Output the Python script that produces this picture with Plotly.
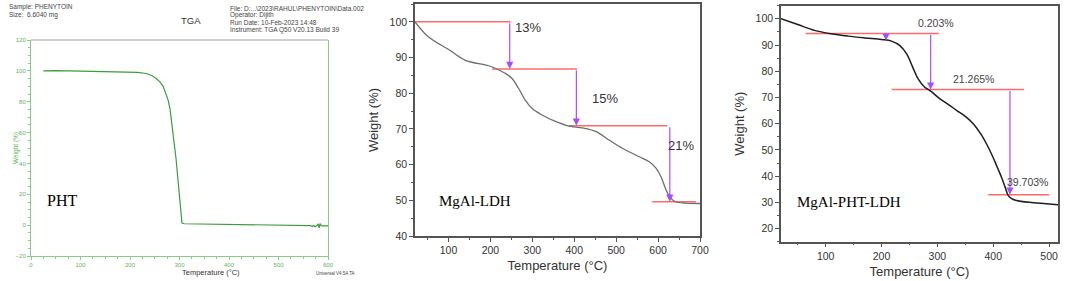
import plotly.graph_objects as go

W, H = 1065, 281

# ---------------- Panel 1: PHT (TA instrument export) ----------------
pht_temp = [25, 50, 100, 150, 200, 215, 233, 245, 253, 260, 267, 272, 277, 281, 284, 287,
            290, 293, 297, 300, 303, 305, 310, 341, 408, 496, 522, 550, 560, 565, 568, 571,
            574, 577, 580, 582, 584, 586, 590, 600]
pht_weight = [100, 100.2, 99.8, 99.6, 99.3, 99.0, 98.3, 96.8, 95, 93, 90, 86, 81, 75, 68, 60,
              51, 43, 29, 16, 8, 1.3, 0.9, 0.7, 0.4, 0.0, -0.4, -0.5, -0.6, -0.3, -0.9, -0.2,
              -1.0, -0.4, 0.8, -1.8, 1.0, -0.3, -0.5, -0.5]

# ---------------- Panel 2: MgAl-LDH ----------------
ldh_temp = [20, 51, 102, 139, 195, 211, 235, 251, 267, 283, 299, 323, 355, 387, 419, 451,
            483, 515, 555, 579, 595, 607, 619, 630, 642, 666, 700]
ldh_weight = [100, 95.9, 92.1, 89.3, 87.7, 87.0, 85.6, 84.2, 81.4, 78.1, 75.8, 73.9, 72.1,
              70.8, 70.3, 69.3, 66.9, 64.6, 62.2, 60.8, 59.0, 56.6, 52.9, 50.6, 49.6, 49.2, 49.1]
ldh_step_levels = [100, 86.8, 70.9, 49.6]
ldh_step_x0 = [20, 204, 387, 586]
ldh_step_x1 = [248, 407, 622, 690]
ldh_arrow_x = [246, 405, 628]
ldh_labels = ["13%", "15%", "21%"]
ldh_label_x = [290, 473, 654]
ldh_label_y = [98.5, 78.4, 65.3]

# ---------------- Panel 3: MgAl-PHT-LDH ----------------
mp_temp = [20, 50, 80, 110, 140, 170, 200, 218, 233, 245, 256, 265, 277, 288, 304, 320, 335,
           350, 365, 378, 390, 400, 408, 415, 421, 427, 433, 440, 465, 495, 516]
mp_weight = [100, 97.8, 95.6, 94.3, 93.4, 92.7, 92.1, 91.5, 89.8, 86.6, 81.5, 77.3, 74.0,
             72.4, 69.6, 67.3, 65.0, 62.8, 59.8, 56.0, 51.5, 47.0, 43.0, 39.5, 36.0, 32.6,
             31.4, 30.8, 30.0, 29.5, 29.1]
mp_step_levels = [94.4, 73.0, 32.9]
mp_step_x0 = [64, 218, 391]
mp_step_x1 = [303, 455, 500]
mp_arrow_x = [208, 288, 430]
mp_arrow_y0 = [94.4, 94.4, 73.0]
mp_arrow_y1 = [91.7, 73.0, 32.9]
mp_labels = ["0.203%", "21.265%", "39.703%"]
mp_label_x = [298, 364, 462]
mp_label_y = [98.5, 77.1, 37.8]

RED = "#ff6b6b"
PURPLE = "#a64dff"
GREEN = "#5db35d"
AX = "#555555"
SANS = "Liberation Sans, Arial, sans-serif"
SERIF = "Liberation Serif, Times New Roman, serif"

fig = go.Figure()

# panel 1 curve
fig.add_trace(go.Scatter(x=pht_temp, y=pht_weight, mode="lines", xaxis="x", yaxis="y",
                         line=dict(color="#3c9c3c", width=1.2), hoverinfo="skip"))

# panel 2 step lines + curve
for lv, a, b in zip(ldh_step_levels, ldh_step_x0, ldh_step_x1):
    fig.add_trace(go.Scatter(x=[a, b], y=[lv, lv], mode="lines", xaxis="x2", yaxis="y2",
                             line=dict(color=RED, width=1.5), hoverinfo="skip"))
fig.add_trace(go.Scatter(x=ldh_temp, y=ldh_weight, mode="lines", xaxis="x2", yaxis="y2",
                         line=dict(color="#6e6e6e", width=1.3, shape="spline"), hoverinfo="skip"))

# panel 3 step lines + curve
for lv, a, b in zip(mp_step_levels, mp_step_x0, mp_step_x1):
    fig.add_trace(go.Scatter(x=[a, b], y=[lv, lv], mode="lines", xaxis="x3", yaxis="y3",
                             line=dict(color=RED, width=1.5), hoverinfo="skip"))
fig.add_trace(go.Scatter(x=mp_temp, y=mp_weight, mode="lines", xaxis="x3", yaxis="y3",
                         line=dict(color="#1e1e1e", width=1.5, shape="spline"), hoverinfo="skip"))

annotations = []
# arrows panel 2
for i, ax_ in enumerate(ldh_arrow_x):
    annotations.append(dict(x=ax_, y=ldh_step_levels[i + 1], ax=ax_, ay=ldh_step_levels[i],
                            xref="x2", yref="y2", axref="x2", ayref="y2", text="",
                            showarrow=True, arrowhead=2, arrowsize=1.2, arrowwidth=1.2,
                            arrowcolor=PURPLE))
for t, x, y in zip(ldh_labels, ldh_label_x, ldh_label_y):
    annotations.append(dict(x=x, y=y, xref="x2", yref="y2", text=t, showarrow=False,
                            font=dict(family=SANS, size=13, color="#333333")))
# arrows panel 3
for x, y0, y1 in zip(mp_arrow_x, mp_arrow_y0, mp_arrow_y1):
    annotations.append(dict(x=x, y=y1, ax=x, ay=y0, xref="x3", yref="y3", axref="x3",
                            ayref="y3", text="", showarrow=True, arrowhead=2, arrowsize=1.2,
                            arrowwidth=1.2, arrowcolor=PURPLE))
for t, x, y in zip(mp_labels, mp_label_x, mp_label_y):
    annotations.append(dict(x=x, y=y, xref="x3", yref="y3", text=t, showarrow=False,
                            font=dict(family=SANS, size=10.5, color="#444444")))

# sample names
annotations.append(dict(x=45 / W, y=1 - 211 / H, xref="paper", yref="paper", text="PHT",
                        xanchor="left", showarrow=False,
                        font=dict(family=SERIF, size=16, color="black")))
annotations.append(dict(x=437 / W, y=1 - 211 / H, xref="paper", yref="paper", text="MgAl-LDH",
                        xanchor="left", showarrow=False,
                        font=dict(family=SERIF, size=15, color="black")))
annotations.append(dict(x=795 / W, y=1 - 212 / H, xref="paper", yref="paper",
                        text="MgAl-PHT-LDH", xanchor="left", showarrow=False,
                        font=dict(family=SERIF, size=15, color="black")))

# TA export header
hdr_left = ["Sample: PHENYTOIN", "Size:  6.6040 mg"]
hdr_left_y = [7, 15]
hdr_right = ["File: D:...\\2023\\RAHUL\\PHENYTOIN\\Data.002", "Operator: Dijith",
             "Run Date: 10-Feb-2023 14:48", "Instrument: TGA Q50 V20.13 Build 39"]
hdr_right_y = [8, 15, 22.5, 29.5]
for t, y in zip(hdr_left, hdr_left_y):
    annotations.append(dict(x=7 / W, y=1 - y / H, xref="paper", yref="paper", text=t,
                            xanchor="left", yanchor="middle", showarrow=False,
                            font=dict(family=SANS, size=6.5, color="#444444")))
for t, y in zip(hdr_right, hdr_right_y):
    annotations.append(dict(x=228 / W, y=1 - y / H, xref="paper", yref="paper", text=t,
                            xanchor="left", yanchor="middle", showarrow=False,
                            font=dict(family=SANS, size=6.5, color="#444444")))
annotations.append(dict(x=179 / W, y=1 - 13 / H, xref="paper", yref="paper", text="TGA",
                        showarrow=False, font=dict(family=SANS, size=9.5, color="#333333")))
annotations.append(dict(x=314 / W, y=1 - 273 / H, xref="paper", yref="paper",
                        text="Universal V4.5A TA", showarrow=False, yanchor="middle",
                        font=dict(family=SANS, size=4.5, color="#444444")))
# panel 1 axis titles
annotations.append(dict(x=10 / W, y=1 - 148 / H, xref="paper", yref="paper",
                        text="Weight (%)", showarrow=False, textangle=-90,
                        font=dict(family=SANS, size=6.5, color=GREEN)))
annotations.append(dict(x=180 / W, y=1 - 272 / H, xref="paper", yref="paper",
                        text="Temperature (°C)", showarrow=False, yanchor="middle",
                        font=dict(family=SANS, size=7.5, color="#333333")))

shapes = [dict(type="line", xref="x domain", yref="y domain", x0=0, x1=1, y0=1, y1=1,
               line=dict(color="#a0a0a0", width=1))]


def p2_axis(domain, rng, dtick, minor_dtick, title, standoff, tfs=10.5):
    return dict(domain=domain, range=rng, dtick=dtick, showline=True, linecolor=AX,
                linewidth=1.5, mirror=True, ticks="outside", ticklen=4, tickwidth=1.2,
                tickcolor=AX, showgrid=False, zeroline=False, automargin=False,
                minor=dict(dtick=minor_dtick, ticks="outside", ticklen=2, tickcolor=AX,
                           showgrid=False),
                tickfont=dict(family=SANS, size=tfs, color="#333333"),
                title=dict(text=title, standoff=standoff,
                           font=dict(family=SANS, size=13, color="#333333")))


g_axis_common = dict(showline=True, linecolor="#88cc88", linewidth=1, ticks="outside",
                     ticklen=3, tickcolor="#88cc88", showgrid=False, zeroline=False,
                     automargin=False,
                     tickfont=dict(family=SANS, size=6, color=GREEN))

fig.update_layout(
    width=W, height=H, margin=dict(l=0, r=0, t=0, b=0, autoexpand=False), showlegend=False,
    paper_bgcolor="white", plot_bgcolor="white",
    xaxis=dict(domain=[31 / W, 328 / W], range=[0, 600], dtick=100, anchor="y",
               minor=dict(dtick=25, ticks="outside", ticklen=2, tickcolor="#88cc88"),
               **g_axis_common),
    yaxis=dict(domain=[1 - 256 / H, 1 - 40 / H], range=[-20, 120], dtick=20, anchor="x",
               mirror=True,
               minor=dict(dtick=5, ticks="outside", ticklen=2, tickcolor="#88cc88"),
               **g_axis_common),
    xaxis2=dict(anchor="y2", **p2_axis([415 / W, 700 / W], [20, 700], 100, 50,
                                        "Temperature (°C)", 6)),
    yaxis2=dict(anchor="x2", **p2_axis([1 - 236 / H, 1 - 4 / H], [40, 105], 10, 5,
                                        "Weight (%)", 8)),
    xaxis3=dict(anchor="y3", **p2_axis([781 / W, 1058 / W], [20, 516], 100, 50,
                                        "Temperature (°C)", 6)),
    yaxis3=dict(anchor="x3", **p2_axis([1 - 241.7 / H, 1 - 5.7 / H], [15, 105], 10, 5,
                                        "Weight (%)", 8)),
    annotations=annotations, shapes=shapes,
)

# remove the browser's default 8px body margin so the figure sits at the page origin
fig.write_html("out.html", config={"displayModeBar": False},
               post_script="document.body.style.margin='0';")
